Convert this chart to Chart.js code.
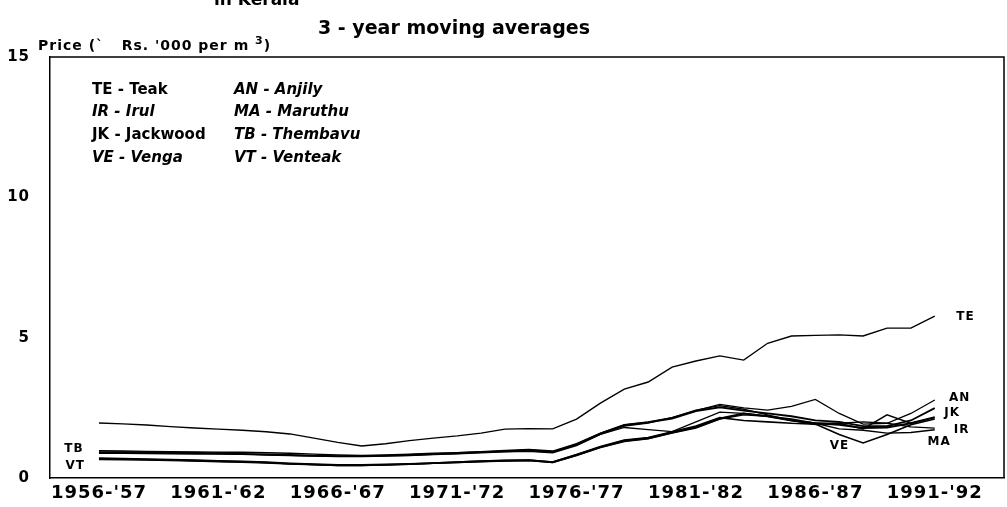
<!DOCTYPE html>
<html>
<head>
<meta charset="utf-8">
<script src="https://cdn.jsdelivr.net/npm/chart.js@4"></script>
<style>
  html, body { margin:0; padding:0; background:#fff; }
  #wrap { position:relative; width:1007px; height:507px; overflow:hidden; background:#fff; }
  canvas { position:absolute; left:0; top:0; }
  .t { position:absolute; color:#000; font-family:"DejaVu Sans", sans-serif; font-weight:bold; white-space:pre; line-height:1; }
  .k { position:absolute; color:#000; font-family:"DejaVu Sans", sans-serif; font-weight:bold; font-size:15px; white-space:pre; line-height:1; }
  .i { font-style:italic; }
</style>
</head>
<body>
<div id="wrap">
  <canvas id="c" width="1007" height="507"></canvas>
  <div class="t" style="left:214px;top:-9px;font-size:17px;">in Kerala</div>
  <div class="t" style="left:318px;top:18px;font-size:19px;">3 - year moving averages</div>
  <div class="t" style="left:38px;top:35px;font-size:14px;letter-spacing:1px;">Price (`   Rs. '000 per m <sup style="font-size:11px;">3</sup>)</div>
  <div class="k" style="left:92px;top:82px;">TE - Teak</div>
  <div class="k i" style="left:234px;top:82px;">AN - Anjily</div>
  <div class="k i" style="left:92px;top:104px;">IR - Irul</div>
  <div class="k i" style="left:234px;top:104px;">MA - Maruthu</div>
  <div class="k" style="left:92px;top:127px;">JK - Jackwood</div>
  <div class="k i" style="left:234px;top:127px;">TB - Thembavu</div>
  <div class="k i" style="left:92px;top:150px;">VE - Venga</div>
  <div class="k i" style="left:234px;top:150px;">VT - Venteak</div>
</div>
<script>
// Years (3-year moving averages, one point per year)
const years = ["1956-'57","1957-'58","1958-'59","1959-'60","1960-'61","1961-'62","1962-'63","1963-'64","1964-'65","1965-'66",
  "1966-'67","1967-'68","1968-'69","1969-'70","1970-'71","1971-'72","1972-'73","1973-'74","1974-'75","1975-'76",
  "1976-'77","1977-'78","1978-'79","1979-'80","1980-'81","1981-'82","1982-'83","1983-'84","1984-'85","1985-'86",
  "1986-'87","1987-'88","1988-'89","1989-'90","1990-'91","1991-'92"];
const tickYears = ["1956-'57","1961-'62","1966-'67","1971-'72","1976-'77","1981-'82","1986-'87","1991-'92"];
const yTicks = [0, 5, 10, 15];

// Price, Rs. '000 per m3
const TE = [1.96,1.93,1.89,1.83,1.78,1.74,1.70,1.65,1.57,1.42,1.27,1.14,1.22,1.33,1.42,1.50,1.60,1.74,1.76,1.75,2.10,2.67,3.17,3.42,3.95,4.17,4.35,4.20,4.80,5.06,5.08,5.10,5.06,5.34,5.34,5.77];
const TB = [0.97,0.96,0.95,0.94,0.93,0.92,0.92,0.90,0.88,0.85,0.82,0.80,0.82,0.85,0.88,0.90,0.94,0.98,1.02,0.96,1.22,1.60,1.90,2.00,2.15,2.42,2.58,2.45,2.25,2.05,1.95,1.95,1.75,2.25,1.95,2.15];
const JK = [0.92,0.92,0.91,0.90,0.90,0.88,0.86,0.84,0.82,0.80,0.78,0.78,0.80,0.82,0.85,0.88,0.92,0.95,0.98,0.92,1.20,1.58,1.88,1.98,2.12,2.38,2.52,2.40,2.30,2.20,2.05,2.00,1.85,1.85,2.05,2.49];
const IR = [0.88,0.88,0.87,0.86,0.85,0.85,0.84,0.82,0.80,0.78,0.76,0.76,0.78,0.80,0.83,0.86,0.90,0.93,0.95,0.90,1.15,1.55,1.80,1.72,1.65,2.00,2.35,2.30,2.20,2.05,1.90,1.95,2.00,1.95,1.82,1.78];
const AN = [0.90,0.90,0.89,0.88,0.88,0.87,0.85,0.83,0.81,0.79,0.77,0.78,0.80,0.83,0.86,0.90,0.93,0.96,1.00,0.94,1.18,1.56,1.85,1.96,2.15,2.40,2.62,2.50,2.42,2.55,2.80,2.30,1.92,1.95,2.30,2.78];
const VT = [0.70,0.69,0.67,0.65,0.63,0.61,0.59,0.56,0.52,0.49,0.46,0.46,0.48,0.50,0.53,0.56,0.60,0.62,0.63,0.56,0.82,1.10,1.33,1.42,1.62,1.82,2.12,2.30,2.20,2.05,1.95,1.90,1.78,1.80,1.95,2.17];
const MA = [0.66,0.65,0.64,0.62,0.60,0.58,0.56,0.53,0.50,0.47,0.44,0.44,0.46,0.49,0.52,0.55,0.58,0.60,0.62,0.55,0.80,1.08,1.30,1.40,1.60,1.78,2.10,2.25,2.20,2.10,1.95,1.75,1.70,1.60,1.62,1.72];
const VE = [0.68,0.67,0.66,0.64,0.62,0.60,0.58,0.55,0.51,0.48,0.45,0.45,0.47,0.50,0.53,0.57,0.60,0.62,0.64,0.57,0.84,1.12,1.35,1.44,1.65,1.85,2.15,2.05,2.00,1.95,1.92,1.55,1.25,1.55,1.90,2.10];

const seriesNames = ["TE","TB","JK","IR","AN","VT","MA","VE"];
const seriesValues = [TE, TB, JK, IR, AN, VT, MA, VE];
const seriesWidths = [1.4, 1.4, 1.8, 1.3, 1.3, 2.0, 1.4, 1.6];

// where each code label sits (in data units: year index, price)
const labelAt = {
  TE:[35.9,5.75], AN:[35.6,2.85], JK:[35.4,2.32], IR:[35.8,1.72],
  MA:[34.7,1.28], VE:[30.6,1.14], TB:[-1.45,1.03], VT:[-1.4,0.42]
};

const datasets = seriesValues.map((vals, s) => ({
  label: seriesNames[s],
  data: vals.map((v, i) => ({x: i, y: v})),
  borderColor: '#000',
  borderWidth: seriesWidths[s],
  pointRadius: 0,
  tension: 0,
  fill: false
}));

const boxPlugin = {
  id: 'box',
  beforeDraw(chart) {
    chart.ctx.letterSpacing = '1px';
  },
  afterDraw(chart) {
    const {ctx, chartArea: a, scales} = chart;
    ctx.save();
    ctx.strokeStyle = '#000';
    ctx.lineWidth = 1.5;
    ctx.beginPath();
    ctx.moveTo(a.left, a.top); ctx.lineTo(a.right, a.top); ctx.lineTo(a.right, a.bottom);
    ctx.stroke();
    ctx.fillStyle = '#000';
    ctx.letterSpacing = '1px';
    ctx.font = 'bold 12px "DejaVu Sans"';
    ctx.textBaseline = 'middle';
    ctx.textAlign = 'left';
    seriesNames.forEach(n => {
      const p = labelAt[n];
      ctx.fillText(n, scales.x.getPixelForValue(p[0]), scales.y.getPixelForValue(p[1]));
    });
    ctx.restore();
  }
};

new Chart(document.getElementById('c'), {
  type: 'line',
  data: { datasets },
  options: {
    responsive: false,
    animation: false,
    layout: { padding: { top: 57, right: 3, left: 0, bottom: 0 } },
    plugins: { legend: { display: false }, tooltip: { enabled: false } },
    scales: {
      x: {
        type: 'linear', min: -2.05, max: 37.9,
        afterBuildTicks: s => { s.ticks = tickYears.map(t => ({ value: years.indexOf(t) })); },
        afterFit: s => { s.height = 29; },
        ticks: { callback: v => years[v], color: '#000', maxRotation: 0, autoSkip: false, padding: 5,
                 font: { family: 'DejaVu Sans', weight: 'bold', size: 18 } },
        grid: { display: false, drawTicks: false },
        border: { color: '#000', width: 1.5 }
      },
      y: {
        min: 0, max: 15,
        afterBuildTicks: s => { s.ticks = yTicks.map(v => ({ value: v })); },
        afterFit: s => { s.width = 50; },
        ticks: { color: '#000', padding: 20, font: { family: 'DejaVu Sans', weight: 'bold', size: 15 } },
        grid: { display: false, drawTicks: false },
        border: { color: '#000', width: 1.5 }
      }
    }
  },
  plugins: [boxPlugin]
});
</script>
</body>
</html>
